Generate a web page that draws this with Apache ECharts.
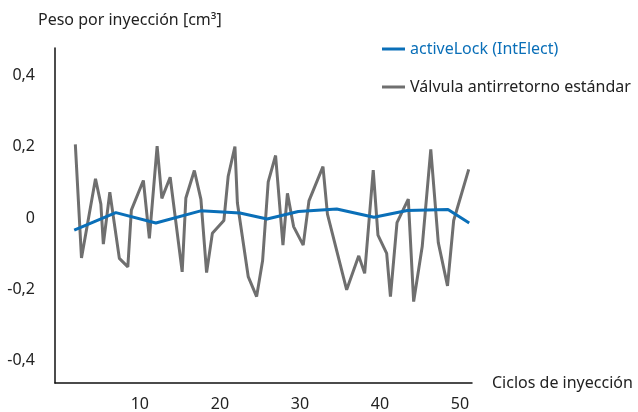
<!DOCTYPE html>
<html>
<head>
<meta charset="utf-8">
<script src="https://cdn.jsdelivr.net/npm/echarts@6/dist/echarts.min.js"></script>
<style>
  html, body { margin: 0; padding: 0; background: #fff; }
</style>
</head>
<body>
<div id="chart" style="width: 638px; height: 412px"></div>
<script>
// cycle, weight deviation [cm3]
const activeLockCycles = [1.8, 7.0, 12.0, 17.6, 22.5, 25.9, 29.8, 34.6, 39.25, 43.4, 48.5, 51.15];
const activeLockValues = [-0.034, 0.015, -0.014, 0.02, 0.014, -0.003, 0.018, 0.025, 0.002, 0.021, 0.024, -0.014];

const standardCycles = [
  1.94, 2.71, 4.46, 5.13, 5.44, 6.25, 7.44, 8.5, 8.94, 10.44,
  11.19, 12.16, 12.75, 13.79, 15.29, 15.75, 16.81, 17.63, 18.34, 19.06,
  20.5, 21.04, 21.88, 22.19, 23.54, 24.59, 25.34, 26.04, 26.96, 27.88,
  28.44, 29.21, 30.41, 31.13, 32.88, 33.44, 35.84, 37.35, 38.09, 39.16,
  39.75, 40.84, 41.31, 42.13, 43.54, 44.21, 45.28, 46.35, 47.29, 48.44,
  49.21, 51.09,
];
const standardValues = [
  0.206, -0.112, 0.11, 0.039, -0.073, 0.072, -0.113, -0.137, 0.022, 0.105,
  -0.057, 0.201, 0.055, 0.114, -0.151, 0.056, 0.133, 0.052, -0.153, -0.043,
  -0.007, 0.117, 0.2, 0.042, -0.164, -0.22, -0.119, 0.101, 0.175, -0.076,
  0.069, -0.024, -0.076, 0.048, 0.144, 0.011, -0.201, -0.106, -0.155, 0.134,
  -0.048, -0.099, -0.22, -0.013, 0.053, -0.234, -0.08, 0.192, -0.069, -0.19,
  -0.007, 0.136,
];

const xTicks = [10, 20, 30, 40, 50];
const yTicks = [-0.4, -0.2, 0, 0.2, 0.4];

const seriesNames = ["activeLock (IntElect)", "Válvula antirretorno estándar"];
const blue = "#0a6fb8";
const grey = "#6f6f6f";
const font = "Noto Sans";

const chart = echarts.init(document.getElementById("chart"));
chart.setOption({
  animation: false,
  textStyle: { fontFamily: font },
  grid: { left: 55, right: 166, top: 48, bottom: 29 },
  legend: {
    orient: "vertical",
    left: 377,
    top: 36,
    itemGap: 22,
    itemWidth: 23,
    itemHeight: 3,
    icon: "rect",
    textStyle: { fontFamily: font, fontSize: 16, color: "#222" },
    data: [
      { name: seriesNames[0], itemStyle: { color: blue }, textStyle: { color: blue } },
      { name: seriesNames[1], itemStyle: { color: grey } },
    ],
  },
  xAxis: {
    type: "value",
    min: -0.6,
    max: 51.5,
    name: "Ciclos de inyección",
    nameLocation: "end",
    nameGap: 20,
    nameTextStyle: { fontSize: 16, color: "#222", fontFamily: font },
    axisLine: { show: true, onZero: false, lineStyle: { color: "#111", width: 1.5 } },
    axisTick: { show: false },
    splitLine: { show: false },
    axisLabel: {
      customValues: xTicks,
      margin: 13,
      fontSize: 16,
      color: "#222",
      fontFamily: font,
    },
  },
  yAxis: {
    type: "value",
    min: -0.462,
    max: 0.476,
    name: "Peso por inyección [cm³]",
    nameLocation: "end",
    nameGap: 20,
    nameTextStyle: { fontSize: 16, color: "#222", fontFamily: font, align: "left", padding: [0, 0, 0, -17] },
    axisLine: { show: true, onZero: false, lineStyle: { color: "#111", width: 1.5 } },
    axisTick: { show: false },
    splitLine: { show: false },
    axisLabel: {
      customValues: yTicks,
      margin: 20,
      fontSize: 16,
      color: "#222",
      fontFamily: font,
      formatter: (v) => (Math.abs(v) < 1e-9 ? "0" : String(v).replace(".", ",")),
    },
  },
  series: [
    {
      name: seriesNames[1],
      type: "line",
      symbol: "none",
      lineStyle: { color: grey, width: 3 },
      itemStyle: { color: grey },
      data: standardCycles.map((c, i) => [c, standardValues[i]]),
    },
    {
      name: seriesNames[0],
      type: "line",
      symbol: "none",
      lineStyle: { color: blue, width: 3 },
      itemStyle: { color: blue },
      data: activeLockCycles.map((c, i) => [c, activeLockValues[i]]),
    },
  ],
});

window.addEventListener("resize", () => {
  chart.resize();
});
</script>
</body>
</html>
